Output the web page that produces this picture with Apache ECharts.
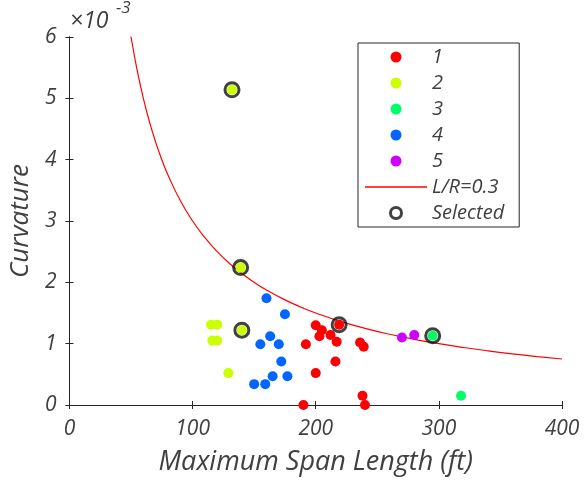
<!DOCTYPE html>
<html><head><meta charset="utf-8">
<script src="https://cdn.jsdelivr.net/npm/echarts@6/dist/echarts.min.js"></script>
<style>html,body{margin:0;padding:0;background:#fff}#c{width:585px;height:482px}</style>
</head><body><div id="c"></div>
<script>
// Curvature values in units of 1e-3
const group1 = [[200,1.30],[205,1.22],[203,1.12],[212,1.14],[217,1.03],[192,0.99],[236,1.02],[239,0.95],[216,0.71],[200,0.52],[238,0.15],[190,0.00],[240,0.00],[219,1.31]];
const group2 = [[115,1.31],[120,1.31],[116,1.05],[120,1.05],[129,0.52],[140,1.22],[139,2.24],[132,5.14]];
const group3 = [[295,1.13],[318,0.15]];
const group4 = [[160,1.74],[175,1.48],[163,1.12],[155,0.99],[170,0.99],[172,0.71],[165,0.47],[177,0.47],[150,0.34],[159,0.34]];
const group5 = [[270,1.10],[280,1.14]];
const selected = [[132,5.14],[139,2.24],[140,1.22],[219,1.31],[295,1.13]];
const ratioLR = 0.3;
const curveLengths = [49,50,55,60,65,70,75,80,90,100,110,120,130,140,150,160,175,190,200,220,240,260,280,300,320,340,360,380,400];
const xTicks = [0,100,200,300,400];
const yTicks = [0,1,2,3,4,5,6];

const curve = curveLengths.map(L => [L, ratioLR / L * 1000]);
const groupColors = ['#ff0000','#ccff00','#00ff66','#0066ff','#cc00ff'];
const font = 'Open Sans';
const txt = '#404040';

const chart = echarts.init(document.getElementById('c'));
const scatter = (name, data, color) => ({
  name, type: 'scatter', data, symbolSize: 10,
  itemStyle: {color: color, opacity: 1}, z: 3
});
chart.setOption({
  animation: false,
  backgroundColor: '#fff',
  grid: {left: 68, right: 23, top: 37, bottom: 77, show: false},
  xAxis: [{
    type: 'value', min: 0, max: 400, interval: 100,
    axisLine: {onZero: false, lineStyle: {color: '#262626', width: 1}},
    axisTick: {inside: true, length: 4, lineStyle: {color: '#262626'}},
    axisLabel: {color: txt, fontFamily: font, fontStyle: 'italic', fontSize: 21, margin: 14,
      formatter: v => xTicks.includes(v) ? String(v) : ''},
    splitLine: {show: false},
    name: 'Maximum Span Length (ft)', nameLocation: 'middle', nameGap: 44,
    nameTextStyle: {color: txt, fontFamily: font, fontStyle: 'italic', fontSize: 27}
  },{
    type: 'value', min: 0, max: 400, interval: 100, position: 'top',
    axisLine: {lineStyle: {color: '#262626', width: 1}},
    axisTick: {inside: true, length: 4, lineStyle: {color: '#262626'}},
    axisLabel: {show: false}, splitLine: {show: false}
  }],
  yAxis: [{
    type: 'value', min: 0, max: 6, interval: 1,
    axisLine: {show: true, onZero: false, lineStyle: {color: '#262626', width: 1}},
    axisTick: {show: true, inside: true, length: 4, lineStyle: {color: '#262626'}},
    axisLabel: {color: txt, fontFamily: font, fontStyle: 'italic', fontSize: 21, margin: 13,
      formatter: v => yTicks.includes(v) ? String(v) : ''},
    splitLine: {show: false},
    name: 'Curvature', nameLocation: 'middle', nameGap: 35, nameRotate: 90,
    nameTextStyle: {color: txt, fontFamily: font, fontStyle: 'italic', fontSize: 26}
  },{
    type: 'value', min: 0, max: 6, interval: 1, position: 'right',
    axisLine: {show: true, lineStyle: {color: '#262626', width: 1}},
    axisTick: {show: true, inside: true, length: 4, lineStyle: {color: '#262626'}},
    axisLabel: {show: false}, splitLine: {show: false}
  }],
  legend: {
    orient: 'vertical', left: 358, top: 43,
    padding: [4, 15, 4, 7],
    borderColor: '#262626', borderWidth: 1, backgroundColor: '#fff',
    itemWidth: 62, itemHeight: 11, itemGap: 6,
    textStyle: {color: txt, fontFamily: font, fontStyle: 'italic', fontSize: 20, lineHeight: 20},
    data: ['1','2','3','4','5',
      {name: 'L/R=0.3', icon: 'path://M0,0 L62,0 L62,1.3 L0,1.3 Z'},
      {name: 'Selected', icon: 'circle', itemStyle: {color: 'rgba(0,0,0,0)', borderColor: '#111', borderWidth: 3}}]
  },
  graphic: [
    {type: 'text', left: 70, top: 10, style: {text: '×10', fill: txt, font: 'italic 23px "Open Sans"'}},
    {type: 'text', left: 116, top: 0, style: {text: '-3', fill: txt, font: 'italic 17px "Open Sans"'}}
  ],
  series: [
    scatter('1', group1, groupColors[0]),
    scatter('2', group2, groupColors[1]),
    scatter('3', group3, groupColors[2]),
    scatter('4', group4, groupColors[3]),
    scatter('5', group5, groupColors[4]),
    {name: 'L/R=0.3', type: 'line', data: curve, showSymbol: false, symbol: 'none', smooth: true,
      lineStyle: {color: '#ff0000', width: 1.2}, itemStyle: {color: '#ff0000'}, z: 2, clip: true},
    {name: 'Selected', type: 'scatter', data: selected, symbolSize: 14,
      itemStyle: {color: 'rgba(0,0,0,0)', borderColor: '#111', borderWidth: 3}, z: 4}
  ]
});
</script></body></html>
